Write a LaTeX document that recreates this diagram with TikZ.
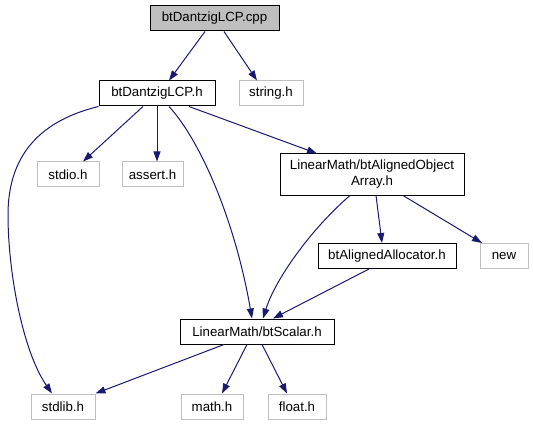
\documentclass[tikz,border=0pt]{standalone}
\usepackage{fontspec}
\setmainfont{Liberation Sans}
\usetikzlibrary{arrows.meta}
\definecolor{edgeblue}{HTML}{191970}
\definecolor{lightgray}{HTML}{BFBFBF}
\begin{document}
\begin{tikzpicture}[x=1pt,y=-1pt,
  box/.style={draw=black,line width=1pt,rectangle,inner sep=0pt,minimum height=25pt,
    font=\fontsize{13.3}{16}\selectfont,text=black,align=center},
  ext/.style={box,draw=lightgray},
  dep/.style={draw=edgeblue,line width=1pt,-{Triangle[length=10pt,width=7pt]}}]
\useasboundingbox (0,0) rectangle (533,425);
\node[box,fill=lightgray,minimum width=129pt] (cpp) at (214.5,18.5) {btDantzigLCP.cpp};
\node[box,minimum width=116pt] (h) at (157,93.5) {btDantzigLCP.h};
\node[ext,minimum width=64pt] (string) at (271,93.5) {string.h};
\node[ext,minimum width=62pt] (stdio) at (68,174.5) {stdio.h};
\node[ext,minimum width=61pt] (assert) at (152.5,174.5) {assert.h};
\node[box,minimum width=184pt,minimum height=41pt] (aoa) at (372,174.5) {LinearMath/btAlignedObject\\Array.h};
\node[box,minimum width=138pt] (alloc) at (387,256) {btAlignedAllocator.h};
\node[ext,minimum width=48pt] (new) at (504,256) {new};
\node[box,minimum width=154pt] (scalar) at (257,331.5) {LinearMath/btScalar.h};
\node[ext,minimum width=64pt] (stdlib) at (63,406.5) {stdlib.h};
\node[ext,minimum width=62pt] (math) at (212,406.5) {math.h};
\node[ext,minimum width=58pt] (float) at (297,406.5) {float.h};

\draw[dep] ([xshift=-9.5pt]cpp.south) -- ([xshift=12pt]h.north);
\draw[dep] ([xshift=9.5pt]cpp.south) -- ([xshift=-14pt]string.north);
\draw[dep] (h.south west) .. controls (35,122) and (8,160) .. (8,215)
  .. controls (8,270) and (22,350) .. ([xshift=-11pt]stdlib.north);
\draw[dep] ([xshift=-14pt]h.south) -- ([xshift=15pt]stdio.north);
\draw[dep] (h.south) -- ([xshift=4.5pt]assert.north);
\draw[dep] ([xshift=12pt]h.south) .. controls (200,140) and (235,220) .. ([xshift=-5pt]scalar.north);
\draw[dep] ([xshift=32pt]h.south) -- ([xshift=-55pt]aoa.north);
\draw[dep] ([xshift=-22pt]aoa.south) .. controls (310,230) and (275,280) .. ([xshift=6pt]scalar.north);
\draw[dep] ([xshift=4pt]aoa.south) -- ([xshift=-5pt]alloc.north);
\draw[dep] ([xshift=31pt]aoa.south) -- ([xshift=-22pt]new.north);
\draw[dep] ([xshift=-18pt]alloc.south) -- ([xshift=16pt]scalar.north);
\draw[dep] ([xshift=-33pt]scalar.south) -- (stdlib.north east);
\draw[dep] ([xshift=-10pt]scalar.south) -- ([xshift=10pt]math.north);
\draw[dep] ([xshift=5pt]scalar.south) -- ([xshift=-10pt]float.north);
\end{tikzpicture}
\end{document}
